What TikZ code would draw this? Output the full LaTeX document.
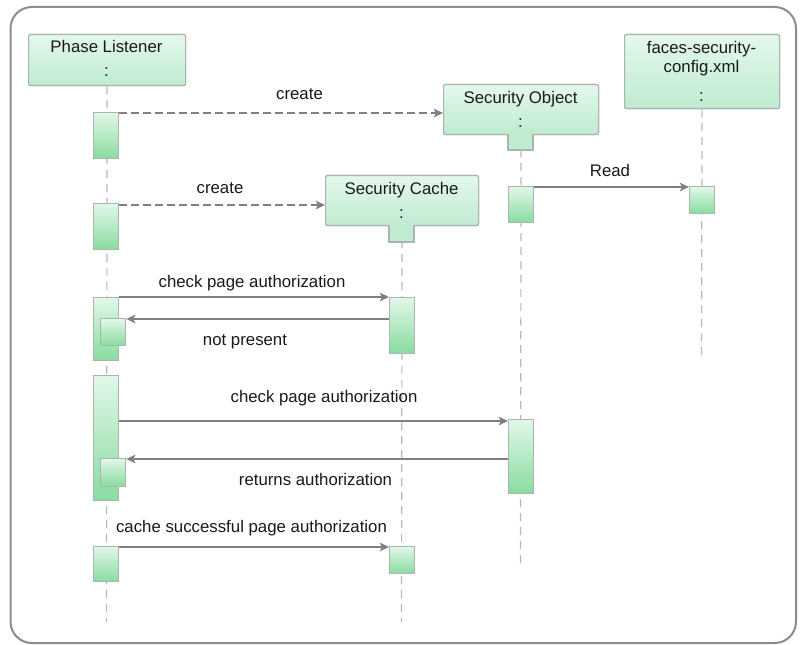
\documentclass[tikz,border=0pt]{standalone}
\usepackage{fontspec}
\setmainfont{Liberation Sans}
\usetikzlibrary{arrows.meta,calc}
\definecolor{framegray}{HTML}{8C8C8C}
\definecolor{linegray}{HTML}{808080}
\definecolor{lifegray}{HTML}{B8B8B8}
\definecolor{boxedge}{HTML}{ABB5AE}
\definecolor{headtop}{HTML}{E4F8EC}
\definecolor{headbot}{HTML}{BFEBD0}
\definecolor{acttop}{HTML}{E2F7E9}
\definecolor{actbot}{HTML}{88DCA0}
\definecolor{textcol}{HTML}{1A1A1A}

\begin{document}
\begin{tikzpicture}[x=0.75pt,y=-0.75pt,
  font=\fontsize{12.6}{15}\selectfont,
  head/.style={draw=boxedge, line width=0.9pt, rounded corners=1.5pt,
    top color=headtop, bottom color=headbot, inner sep=0pt, anchor=north west},
  act/.style={draw=boxedge, line width=0.9pt, top color=acttop,
    bottom color=actbot, inner sep=0pt, anchor=north west, minimum width=18.75pt},
  life/.style={draw=lifegray, line width=0.9pt, dash pattern=on 6pt off 4.5pt},
  msg/.style={draw=linegray, line width=1pt,
    -{Stealth[length=7pt,width=6.5pt,inset=1.8pt]}},
  createmsg/.style={msg, dash pattern=on 5.5pt off 3.5pt},
  lbl/.style={anchor=base, inner sep=0pt, text=textcol}]

% canvas and outer frame
\fill[white] (0,0) rectangle (802,645);
\useasboundingbox (0,0) rectangle (802,645);
\draw[framegray, line width=1.5pt, rounded corners=16pt] (10.5,7) rectangle (796,643);

% lifeline heads (positions only, drawn later on top of the lifelines)
\coordinate (plEnd)  at (106.5,622);
\coordinate (soEnd)  at (520.5,563);
\coordinate (scEnd)  at (401.5,622);
\coordinate (cfgEnd) at (701.5,355);

\path (28,34)  node[head, minimum width=117.75pt, minimum height=38.25pt] (pl) {};
\path (443,84) node[head, minimum width=116.25pt, minimum height=37.5pt] (so) {};
\path (325,175) node[head, minimum width=114.75pt, minimum height=37.5pt] (sc) {};
\path (624,34) node[head, minimum width=116.25pt, minimum height=55.5pt] (cfg) {};

% dashed lifelines
\draw[life] (pl.south) -- (plEnd);
\draw[life] (so.south) -- (soEnd);
\draw[life] (sc.south) -- (scEnd);
\draw[life] (cfg.south) -- (cfgEnd);

% redraw heads over lifelines
\path (28,34)  node[head, minimum width=117.75pt, minimum height=38.25pt] {};
\path (443,84) node[head, minimum width=116.25pt, minimum height=37.5pt] {};
\path (325,175) node[head, minimum width=114.75pt, minimum height=37.5pt] {};
\path (624,34) node[head, minimum width=116.25pt, minimum height=55.5pt] {};

% tabs under the created objects
\fill[headbot] (508,133) rectangle (533,150);
\draw[boxedge, line width=0.9pt] (508,134) -- (508,150) -- (533,150) -- (533,134);
\fill[headbot] (389,224) rectangle (414,242);
\draw[boxedge, line width=0.9pt] (389,225) -- (389,242) -- (414,242) -- (414,225);

% head texts
\node[lbl] at (106.5,53) {Phase Listener};
\node[lbl] at (106.5,77) {:};
\node[lbl] at (520.5,104) {Security Object};
\node[lbl] at (520.5,128) {:};
\node[lbl] at (401.5,195) {Security Cache};
\node[lbl] at (401.5,219) {:};
\node[lbl] at (701.5,54) {faces-security-};
\node[lbl] at (701.5,73) {config.xml};
\node[lbl] at (701.5,102) {:};

% activation bars
\path (93,112)  node[act, minimum height=34.5pt]  (pa1) {};
\path (93,203)  node[act, minimum height=34.5pt]  (pa2) {};
\path (93,297)  node[act, minimum height=47.25pt] (pa3) {};
\path (100,318) node[act, minimum height=20.25pt] (pa3n) {};
\path (93,375)  node[act, minimum height=93.75pt] (pa4) {};
\path (100,458) node[act, minimum height=21pt]    (pa4n) {};
\path (93,546)  node[act, minimum height=26.25pt] (pa5) {};
\path (508,186) node[act, minimum height=27pt]    (soa1) {};
\path (508,419) node[act, minimum height=55.5pt]  (soa2) {};
\path (689,186) node[act, minimum height=20.25pt] (cfa1) {};
\path (389,297) node[act, minimum height=42pt]    (sca1) {};
\path (389,546) node[act, minimum height=20.25pt] (sca2) {};

% messages
\draw[createmsg] ($(pa1.north east)+(0,1)$) -- ($(pa1.north east -| so.west)+(0,1)$);
\node[lbl] at (299.5,100) {create};

\draw[createmsg] ($(pa2.north east)+(0,2)$) -- ($(pa2.north east -| sc.west)+(0,2)$);
\node[lbl] at (220,194) {create};

\draw[msg] ($(soa1.north east)+(0,1)$) -- ($(cfa1.north west)+(0,1)$);
\node[lbl] at (610,177) {Read};

\draw[msg] (pa3.north east) -- (sca1.north west);
\node[lbl] at (252,287) {check page authorization};

\draw[msg] ($(pa3n.north east -| sca1.west)+(0,1)$) -- ($(pa3n.north east)+(0,1)$);
\node[lbl] at (245,345) {not present};

\draw[msg] ($(soa2.north west -| pa4.east)+(0,2)$) -- ($(soa2.north west)+(0,2)$);
\node[lbl] at (324,402) {check page authorization};

\draw[msg] ($(pa4n.north east -| soa2.west)+(0,1)$) -- ($(pa4n.north east)+(0,1)$);
\node[lbl] at (315.5,485) {returns authorization};

\draw[msg] ($(pa5.north east)+(0,1)$) -- ($(sca2.north west)+(0,1)$);
\node[lbl] at (251.5,532) {cache successful page authorization};

\end{tikzpicture}
\end{document}
